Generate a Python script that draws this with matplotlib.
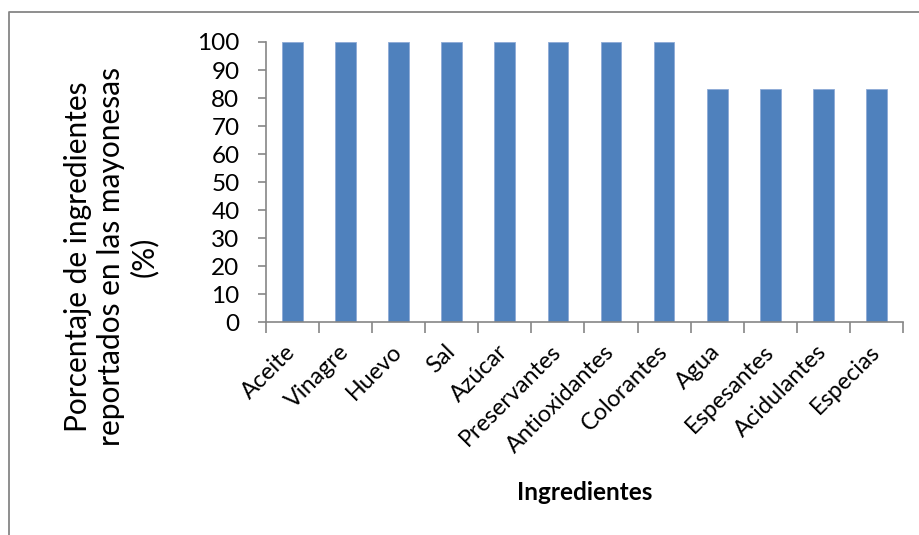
import matplotlib
matplotlib.use('Agg')
import matplotlib.pyplot as plt
from matplotlib.lines import Line2D
import numpy as np

plt.rcParams['font.family'] = ['Lato', 'DejaVu Sans']

# ingredients and share of labels reporting them (%)
ingredientes = ['Aceite', 'Vinagre', 'Huevo', 'Sal', 'Azúcar', 'Preservantes',
                'Antioxidantes', 'Colorantes', 'Agua', 'Espesantes',
                'Acidulantes', 'Especias']
porcentaje = [100, 100, 100, 100, 100, 100, 100, 100, 83.33, 83.33, 83.33, 83.33]
yticks = [0, 10, 20, 30, 40, 50, 60, 70, 80, 90, 100]

bar_color = '#4F81BD'
axis_gray = '#868686'

fig = plt.figure(figsize=(9.2, 5.35), dpi=100)
ax = fig.add_axes([0.289, 0.398, 0.6925, 0.5235])

x = np.arange(len(ingredientes))
ax.bar(x, porcentaje, width=0.39, color=bar_color, edgecolor='#8EAAD6',
       linewidth=0.6, zorder=2)

ax.set_xlim(-0.5, len(ingredientes) - 0.5)
ax.set_ylim(0, 100)
ax.set_yticks(yticks)
ax.set_yticklabels([str(v) for v in yticks], fontsize=17.5)

# labels on the categories, tick marks between them
ax.set_xticks(x)
ax.set_xticklabels(ingredientes, fontsize=16.8, rotation=45, ha='right',
                   va='center', rotation_mode='anchor')
ax.set_xticks(np.arange(-0.5, len(ingredientes)), minor=True)
ax.tick_params(axis='x', which='major', length=0, pad=19)
ax.tick_params(axis='x', which='minor', length=8, width=1.2, color=axis_gray)
ax.tick_params(axis='y', length=6, width=1.2, color=axis_gray, pad=13)

for side in ['top', 'right']:
    ax.spines[side].set_visible(False)
for side in ['left', 'bottom']:
    ax.spines[side].set_color(axis_gray)
    ax.spines[side].set_linewidth(1.2)

# y title sits in the left margin, centred on the chart area
fig.text(0.121, 0.52, 'Porcentaje de ingredientes\nreportados en las mayonesas\n(%)',
         fontsize=21.5, linespacing=1.2, rotation=90, ha='center', va='center',
         multialignment='center')
fig.text(0.635, 0.079, 'Ingredientes', fontsize=17.5, fontweight='bold',
         ha='center', va='center')

# chart area border (top and left edges)
fig.add_artist(Line2D([0.0098, 0.0098, 1.0], [0.0, 0.978, 0.978],
                      transform=fig.transFigure, color=axis_gray, lw=1.3))

fig.savefig('out.png', dpi=100)
